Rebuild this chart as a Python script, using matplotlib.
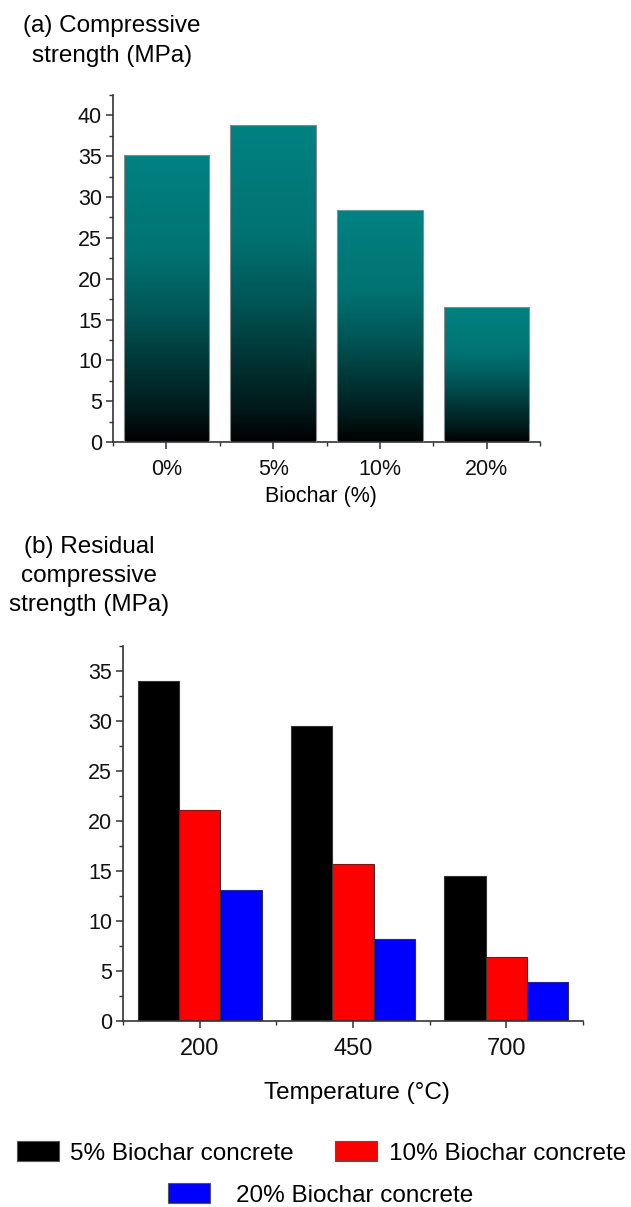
#importing the required libraries
import numpy as np
import matplotlib
matplotlib.use('Agg')
from matplotlib import pyplot as plt
from matplotlib.colors import LinearSegmentedColormap
from matplotlib.patches import Patch
from matplotlib.ticker import MultipleLocator

plt.rcParams['font.family'] = ['Liberation Sans', 'DejaVu Sans']

#data for panel (a): compressive strength vs biochar content
biochar_labels = ['0%', '5%', '10%', '20%']
strength = [35.2, 38.8, 28.4, 16.5]

#data for panel (b): residual strength vs temperature
temperatures = ['200', '450', '700']
series_names = ['5% Biochar concrete', '10% Biochar concrete', '20% Biochar concrete']
residual_5 = [34.0, 29.5, 14.5]
residual_10 = [21.1, 15.7, 6.4]
residual_20 = [13.1, 8.2, 3.9]
series_colors = ['#000000', '#ff0000', '#0000ff']

W, H = 631, 1207
fig = plt.figure(figsize=(W / 100, H / 100), dpi=100)

#teal to black gradient used in panel (a)
teal = LinearSegmentedColormap.from_list('teal', [
    (0.0, '#000000'), (0.1, '#001818'), (0.26, '#003434'),
    (0.43, '#005353'), (0.65, '#007272'), (1.0, '#008282')])


def style_axes(ax, tick_size, label_size):
    for side in ['top', 'right']:
        ax.spines[side].set_visible(False)
    for side in ['left', 'bottom']:
        ax.spines[side].set_color('#333333')
        ax.spines[side].set_linewidth(1.2)
    ax.tick_params(axis='both', which='major', direction='out', length=5,
                   width=1.1, color='#333333', labelcolor='#111111')
    ax.tick_params(axis='both', which='minor', direction='out', length=3,
                   width=1.0, color='#333333')
    ax.tick_params(axis='y', labelsize=tick_size, pad=3)
    ax.tick_params(axis='x', labelsize=label_size, pad=7)


#panel (a)
ax1 = fig.add_axes([113 / W, 1 - 442 / H, 427 / W, 347 / H])
x1 = np.arange(len(biochar_labels))
bars = ax1.bar(x1, strength, width=0.8, color='none', edgecolor='#8a8a8a',
               linewidth=0.8, zorder=3)
grad = np.linspace(0, 1, 256).reshape(-1, 1)
for b in bars:
    bx, by = b.get_x(), b.get_y()
    img = ax1.imshow(grad, extent=[bx, bx + b.get_width(), by, by + b.get_height()],
                     origin='lower', cmap=teal, aspect='auto', zorder=2)
    img.set_clip_path(b)
ax1.set_xlim(-0.5, len(biochar_labels) - 0.5)
ax1.set_ylim(0, 42.5)
ax1.set_yticks(np.arange(0, 41, 5))
ax1.yaxis.set_minor_locator(MultipleLocator(2.5))
ax1.set_xticks(x1)
ax1.set_xticklabels(biochar_labels)
ax1.set_xticks(np.arange(-0.5, len(biochar_labels)), minor=True)
style_axes(ax1, 15.5, 15.5)
ax1.set_xlabel('Biochar (%)', fontsize=15.5)
ax1.xaxis.set_label_coords(0.487, -0.1585)
ax1.xaxis.label.set_verticalalignment('center')

fig.text(112 / W, 1 - 41 / H, '(a) Compressive\nstrength (MPa)', fontsize=17.5,
         ha='center', va='center', multialignment='center', linespacing=1.45)

#panel (b)
ax2 = fig.add_axes([123 / W, 1 - 1021 / H, 460 / W, 375 / H])
x2 = np.arange(len(temperatures))
bw = 0.27
for i, vals in enumerate([residual_5, residual_10, residual_20]):
    ax2.bar(x2 + (i - 1) * bw, vals, width=bw, color=series_colors[i],
            edgecolor='#333333', linewidth=0.8, zorder=2)
ax2.set_xlim(-0.5, len(temperatures) - 0.5)
ax2.set_ylim(0, 37.5)
ax2.set_yticks(np.arange(0, 36, 5))
ax2.yaxis.set_minor_locator(MultipleLocator(2.5))
ax2.set_xticks(x2)
ax2.set_xticklabels(temperatures)
ax2.set_xticks(np.arange(-0.5, len(temperatures)), minor=True)
style_axes(ax2, 15.5, 17)
ax2.set_xlabel('Temperature (°C)', fontsize=17.5)
ax2.xaxis.set_label_coords(0.509, -0.192)
ax2.xaxis.label.set_verticalalignment('center')

fig.text(89 / W, 1 - 576 / H, '(b) Residual\ncompressive\nstrength (MPa)', fontsize=17.5,
         ha='center', va='center', multialignment='center', linespacing=1.42)

#legend, one entry per box so the layout matches
handles = [Patch(facecolor=c, edgecolor='#555555', linewidth=0.8) for c in series_colors]
anchors = [(17 / W, 1 - 1153 / H), (335 / W, 1 - 1153 / H), (168 / W, 1 - 1195 / H)]
pads = [0.45, 0.5, 1.05]
for h, name, anc, pad in zip(handles, series_names, anchors, pads):
    fig.legend([h], [name], loc='center left', bbox_to_anchor=anc, frameon=False,
               fontsize=17.5, handlelength=1.73, handleheight=0.86,
               handletextpad=pad, borderpad=0, borderaxespad=0)

plt.savefig('out.png', dpi=100)
